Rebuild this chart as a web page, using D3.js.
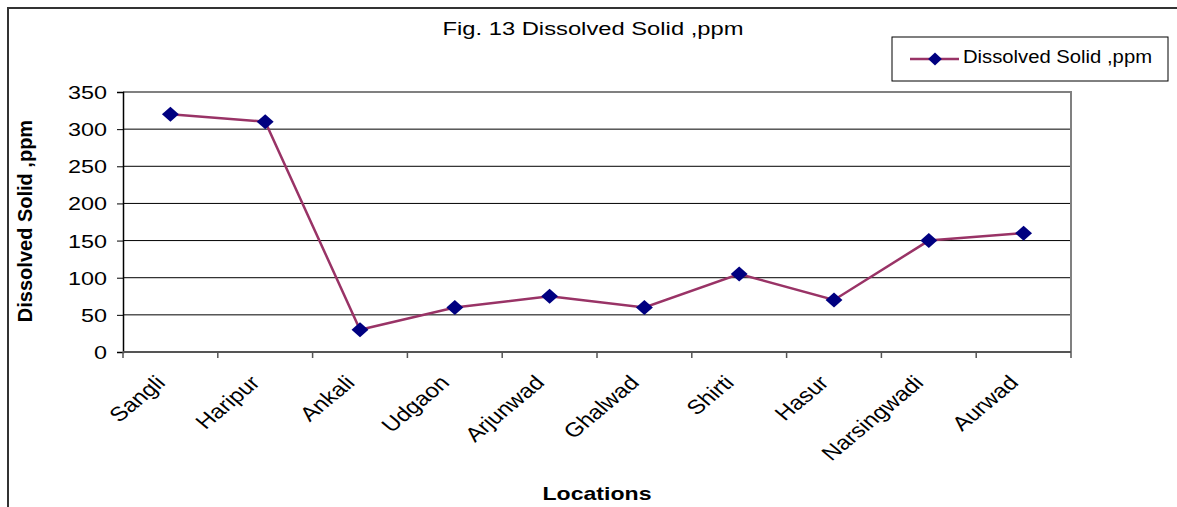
<!DOCTYPE html>
<html>
<head>
<meta charset="utf-8">
<title>Dissolved Solid</title>
<script src="https://d3js.org/d3.v7.min.js"></script>
<style>
  body { margin: 0; background: #fff; }
  text { font-family: "Liberation Sans", Arial, sans-serif; fill: #000; }
</style>
</head>
<body>
<svg id="chart" width="1177" height="507"></svg>
<script>
// data
var locations = ["Sangli", "Haripur", "Ankali", "Udgaon", "Arjunwad", "Ghalwad", "Shirti", "Hasur", "Narsingwadi", "Aurwad"];
var dissolved = [320, 310, 30, 60, 75, 60, 105, 70, 150, 160];
var yTicks = [0, 50, 100, 150, 200, 250, 300, 350];

var svg = d3.select("#chart");
var plotL = 123, plotR = 1071, plotT = 92, plotB = 352;

// outer chart frame
svg.append("rect")
    .attr("x", 8).attr("y", 8)
    .attr("width", 1200).attr("height", 600)
    .attr("fill", "none")
    .attr("stroke", "#333")
    .attr("stroke-width", 2);

var x = d3.scaleBand().domain(locations).range([plotL, plotR]);
var y = d3.scaleLinear().domain([0, 350]).range([plotB, plotT]);

// gridlines
svg.append("g").selectAll("line")
    .data(yTicks.slice(1, -1))
    .enter().append("line")
    .attr("x1", plotL).attr("x2", plotR)
    .attr("y1", function(d){ return y(d); })
    .attr("y2", function(d){ return y(d); })
    .attr("stroke", "#000").attr("stroke-width", 1);

// plot border top & right
svg.append("path")
    .attr("d", "M" + plotL + "," + plotT + "H" + plotR + "V" + plotB)
    .attr("fill", "none").attr("stroke", "#808080").attr("stroke-width", 2);

// y axis
var yAxis = svg.append("g")
    .attr("transform", "translate(" + plotL + ",0)")
    .call(d3.axisLeft(y).tickValues(yTicks).tickSize(6).tickPadding(8));
yAxis.select(".domain").attr("stroke", "#000").attr("stroke-width", 1.5);
yAxis.selectAll(".tick line").attr("stroke", "#000");
yAxis.selectAll("text")
    .style("font-size", "18px")
    .attr("dy", "0.36em")
    .attr("transform", "scale(1.3,1)")
    .attr("x", -16 / 1.3);

// x axis: ticks at category boundaries
var bounds = locations.map(function(d){ return x(d); }).concat([plotR]);
svg.append("line")
    .attr("x1", plotL).attr("x2", plotR)
    .attr("y1", plotB).attr("y2", plotB)
    .attr("stroke", "#555").attr("stroke-width", 2);
svg.append("g").selectAll("line")
    .data(bounds)
    .enter().append("line")
    .attr("x1", function(d){ return d; }).attr("x2", function(d){ return d; })
    .attr("y1", plotB).attr("y2", plotB + 6)
    .attr("stroke", "#555").attr("stroke-width", 1.5);

svg.append("g").selectAll("text")
    .data(locations)
    .enter().append("text")
    .attr("transform", function(d){
        return "translate(" + (x(d) + x.bandwidth() / 2 - 4) + "," + (plotB + 32) + ") scale(1.2,1) rotate(-45)";
    })
    .attr("text-anchor", "end")
    .style("font-size", "20px")
    .text(function(d){ return d; });

// line
var line = d3.line()
    .x(function(d, i){ return x(locations[i]) + x.bandwidth() / 2; })
    .y(function(d){ return y(d); });

svg.append("path")
    .datum(dissolved)
    .attr("d", line)
    .attr("fill", "none")
    .attr("stroke", "#993366")
    .attr("stroke-width", 2.5);

// diamond marker: square turned 45deg, a bit wider than tall
var marker = d3.symbol().type(d3.symbolSquare).size(112);
svg.append("g").selectAll("path")
    .data(dissolved)
    .enter().append("path")
    .attr("d", marker)
    .attr("transform", function(d, i){
        return "translate(" + (x(locations[i]) + x.bandwidth() / 2) + "," + y(d) + ") scale(1.13,1) rotate(45)";
    })
    .attr("fill", "#000080");

// title
svg.append("text")
    .attr("x", 593).attr("y", 35)
    .attr("text-anchor", "middle")
    .attr("textLength", 301).attr("lengthAdjust", "spacingAndGlyphs")
    .style("font-size", "18px")
    .text("Fig. 13 Dissolved Solid ,ppm");

// legend
var lg = svg.append("g");
lg.append("rect")
    .attr("x", 892).attr("y", 37)
    .attr("width", 276).attr("height", 44)
    .attr("fill", "#fff").attr("stroke", "#000").attr("stroke-width", 1);
lg.append("line")
    .attr("x1", 910).attr("x2", 959)
    .attr("y1", 59).attr("y2", 59)
    .attr("stroke", "#993366").attr("stroke-width", 2.5);
lg.append("path")
    .attr("d", d3.symbol().type(d3.symbolSquare).size(85))
    .attr("transform", "translate(935,59) scale(1.05,1) rotate(45)")
    .attr("fill", "#000080");
lg.append("text")
    .attr("x", 963).attr("y", 63)
    .attr("textLength", 189).attr("lengthAdjust", "spacingAndGlyphs")
    .style("font-size", "18px")
    .text("Dissolved Solid ,ppm");

// axis titles
svg.append("text")
    .attr("transform", "translate(32,221) rotate(-90)")
    .attr("text-anchor", "middle")
    .style("font-size", "20px")
    .style("font-weight", "bold")
    .text("Dissolved Solid ,ppm");

svg.append("text")
    .attr("x", 597).attr("y", 500)
    .attr("text-anchor", "middle")
    .attr("textLength", 109).attr("lengthAdjust", "spacingAndGlyphs")
    .style("font-size", "19px")
    .style("font-weight", "bold")
    .text("Locations");
</script>
</body>
</html>
